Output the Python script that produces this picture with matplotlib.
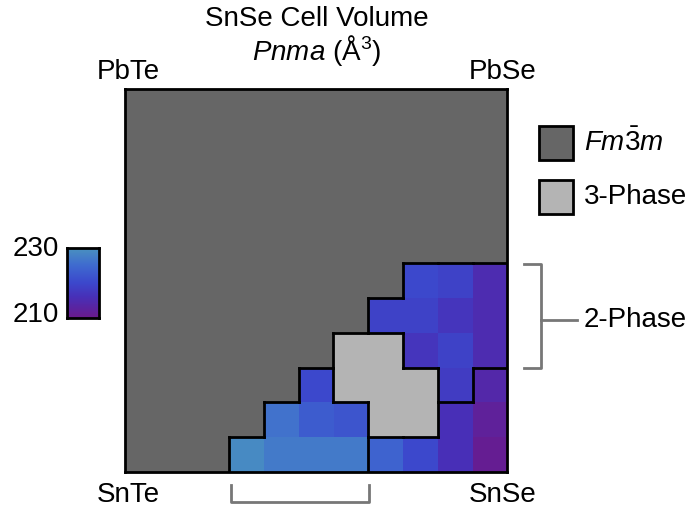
import numpy as np
import matplotlib
matplotlib.use('Agg')
import matplotlib.pyplot as plt
import matplotlib.patches as patches
from matplotlib.colors import LinearSegmentedColormap, ListedColormap

plt.rcParams['font.family'] = ['Liberation Sans', 'DejaVu Sans']
plt.rcParams['mathtext.fontset'] = 'custom'
plt.rcParams['mathtext.rm'] = 'Liberation Sans'
plt.rcParams['mathtext.it'] = 'Liberation Sans:italic'

W, H = 690, 515
N = 11

# phase labels, rows from bottom (SnTe-SnSe edge) to top
# 0 = Fm-3m, 1 = 3-phase, 2/3/4 = Pnma regions (outlined groups)
phase_rows = [
    [0, 0, 0, 3, 3, 3, 3, 4, 4, 4, 4],
    [0, 0, 0, 0, 3, 3, 3, 1, 1, 4, 4],
    [0, 0, 0, 0, 0, 3, 1, 1, 1, 2, 4],
    [0, 0, 0, 0, 0, 0, 1, 1, 2, 2, 2],
    [0, 0, 0, 0, 0, 0, 0, 2, 2, 2, 2],
    [0, 0, 0, 0, 0, 0, 0, 0, 2, 2, 2],
]

# SnSe cell volume (A^3) for Pnma cells, nan elsewhere
nan = np.nan
volume_rows = [
    [nan, nan, nan, 229, 227, 227, 227, 224, 220, 216, 211],
    [nan, nan, nan, nan, 226, 223, 222, nan, nan, 216, 212],
    [nan, nan, nan, nan, nan, 220, nan, nan, nan, 218, 214],
    [nan, nan, nan, nan, nan, nan, nan, nan, 217, 219, 215],
    [nan, nan, nan, nan, nan, nan, nan, 219, 219, 217, 215],
    [nan, nan, nan, nan, nan, nan, nan, nan, 220, 219, 215],
]

vmin, vmax = 210, 230
corner_labels = ['PbTe', 'PbSe', 'SnTe', 'SnSe']
legend_labels = [r'$Fm\bar{\mathrm{3}}m$', '3-Phase']

phase = np.zeros((N, N), dtype=int)
phase[:len(phase_rows)] = np.array(phase_rows)
volume = np.full((N, N), np.nan)
volume[:len(volume_rows)] = np.array(volume_rows, dtype=float)

cmap = LinearSegmentedColormap.from_list(
    'vol', [(0.0, '#6b1a8c'), (0.3, '#4830b8'), (0.5, '#3c48cc'),
            (0.75, '#3f6ad0'), (1.0, '#4a92c0')])
phase_cmap = ListedColormap(['#666666', '#b4b4b4'])


def fx(x):
    return x / W


def fy(y):
    return 1 - y / H


fig = plt.figure(figsize=(W / 100, H / 100), dpi=100)

# main grid
ax = fig.add_axes([fx(124), fy(472), fx(508) - fx(124), fy(89) - fy(472)])
bg = np.where(phase == 1, 1, 0)
ax.imshow(bg, cmap=phase_cmap, vmin=0, vmax=1, origin='lower',
          extent=(0, N, 0, N), interpolation='nearest')
ax.imshow(np.ma.masked_invalid(volume), cmap=cmap, vmin=vmin, vmax=vmax,
          origin='lower', extent=(0, N, 0, N), interpolation='nearest')

# outline region boundaries
lw = 2
for r in range(N):
    for c in range(N):
        if c + 1 < N and phase[r, c] != phase[r, c + 1]:
            ax.plot([c + 1, c + 1], [r, r + 1], color='black', lw=lw,
                    solid_capstyle='projecting')
        if r + 1 < N and phase[r, c] != phase[r + 1, c]:
            ax.plot([c, c + 1], [r + 1, r + 1], color='black', lw=lw,
                    solid_capstyle='projecting')
ax.set_xlim(0, N)
ax.set_ylim(0, N)
ax.set_xticks([])
ax.set_yticks([])
for s in ax.spines.values():
    s.set_linewidth(lw)

# colorbar
cax = fig.add_axes([fx(67), fy(318), fx(99) - fx(67), fy(248) - fy(318)])
grad = np.linspace(vmin, vmax, 200).reshape(-1, 1)
cax.imshow(grad, cmap=cmap, vmin=vmin, vmax=vmax, origin='lower',
           aspect='auto', extent=(0, 1, vmin, vmax))
cax.set_xticks([])
cax.set_yticks([])
for s in cax.spines.values():
    s.set_linewidth(lw)
fs = 20
fig.text(fx(59), fy(249), str(vmax), ha='right', va='center', fontsize=fs)
fig.text(fx(59), fy(315), str(vmin), ha='right', va='center', fontsize=fs)

# titles and corner labels
fig.text(fx(317), fy(19), 'SnSe Cell Volume', ha='center', va='center', fontsize=fs)
fig.text(fx(317), fy(50), r'$Pnma$ (Å$^3$)', ha='center', va='center', fontsize=fs)
fig.text(fx(128), fy(72), corner_labels[0], ha='center', va='center', fontsize=fs)
fig.text(fx(503), fy(72), corner_labels[1], ha='center', va='center', fontsize=fs)
fig.text(fx(128), fy(495), corner_labels[2], ha='center', va='center', fontsize=fs)
fig.text(fx(503), fy(495), corner_labels[3], ha='center', va='center', fontsize=fs)

# legend boxes
for i, (lab, col) in enumerate(zip(legend_labels, ['#666666', '#b4b4b4'])):
    y0 = 126 + i * 54
    fig.patches.append(patches.Rectangle((fx(539), fy(y0 + 34)), fx(573) - fx(539),
                                         fy(y0) - fy(y0 + 34), transform=fig.transFigure,
                                         facecolor=col, edgecolor='black', lw=lw))
    fig.text(fx(584), fy(y0 + 17), lab, ha='left', va='center', fontsize=fs)

# 2-phase bracket on the right
gray = '#777777'
fig.add_artist(plt.Line2D([fx(524), fx(541), fx(541), fx(524)],
                          [fy(264), fy(264), fy(368), fy(368)],
                          transform=fig.transFigure, color=gray, lw=2))
fig.add_artist(plt.Line2D([fx(541), fx(577)], [fy(320), fy(320)],
                          transform=fig.transFigure, color=gray, lw=2))
fig.text(fx(584), fy(320), '2-Phase', ha='left', va='center', fontsize=fs)

# bracket under the bottom row
fig.add_artist(plt.Line2D([fx(231), fx(231), fx(369), fx(369)],
                          [fy(485), fy(502), fy(502), fy(485)],
                          transform=fig.transFigure, color=gray, lw=2))

fig.savefig('out.png', dpi=100)
